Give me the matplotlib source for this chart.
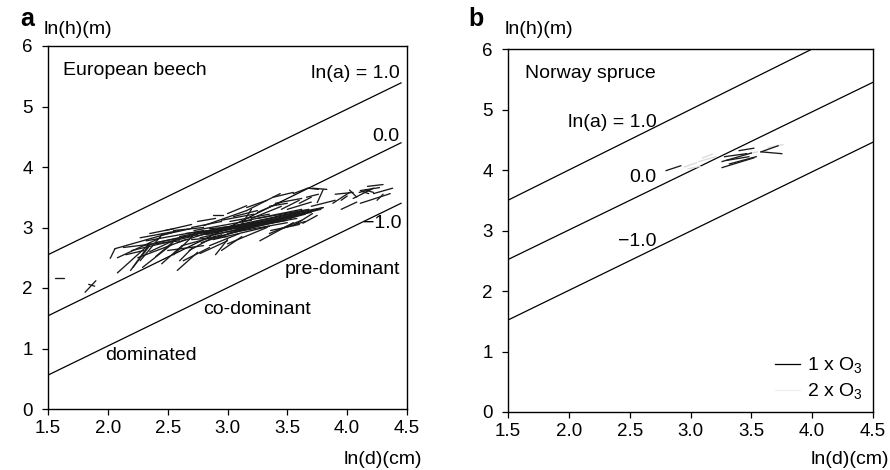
import matplotlib
matplotlib.use("Agg")
import matplotlib.pyplot as plt
from matplotlib.lines import Line2D

plt.rcParams['font.family'] = ['Liberation Sans', 'DejaVu Sans']
plt.rcParams['mathtext.fontset'] = 'custom'
plt.rcParams['mathtext.rm'] = 'Liberation Sans'
plt.rcParams['mathtext.it'] = 'Liberation Sans'

# ---------------- data ----------------
x_ticks = [1.5, 2.0, 2.5, 3.0, 3.5, 4.0, 4.5]
x_ticklabels = ["1.5", "2.0", "2.5", "3.0", "3.5", "4.0", "4.5"]
y_ticks = [0, 1, 2, 3, 4, 5, 6]

# reference lines ln(h) = ln(a) + b ln(d): endpoints
lna_labels = ["ln(a) = 1.0", "0.0", "\u22121.0"]
beech_line_d = [1.5, 4.45]
beech_line_h0 = [2.55, 1.54, 0.56]
beech_line_h1 = [5.39, 4.40, 3.40]
spruce_line_d = [1.5, 4.5]
spruce_line_h0 = [3.50, 2.52, 1.52]
spruce_line_h1 = [6.50, 5.45, 4.46]

# European beech, 1 x O3 trajectories (d0, h0, d1, h1)
beech_seg = [
    (1.56, 2.17, 1.63, 2.17), (1.81, 1.93, 1.90, 2.12), (1.84, 2.06, 1.89, 2.03),
    (2.02, 2.49, 2.06, 2.65),
    (2.08, 2.50, 2.44, 2.83), (2.06, 2.65, 2.54, 2.92), (2.27, 2.45, 2.46, 2.90),
    (2.19, 2.29, 2.35, 2.73), (2.29, 2.34, 2.54, 2.73), (2.08, 2.25, 2.35, 2.73),
    (2.13, 2.67, 2.60, 2.78), (2.21, 2.34, 2.35, 2.70), (2.27, 2.83, 2.60, 2.95),
    (2.44, 2.87, 2.69, 2.98), (2.35, 2.60, 2.62, 2.85), (2.40, 2.75, 2.75, 2.88),
    (2.48, 2.95, 2.70, 3.05), (2.30, 2.70, 2.52, 2.80), (2.55, 2.55, 2.72, 2.88),
    (2.58, 2.29, 2.75, 2.59), (2.60, 2.45, 2.71, 2.67), (2.63, 2.45, 2.85, 2.67),
    (2.50, 2.62, 2.80, 2.70), (2.15, 2.55, 2.30, 2.62),
    (2.58, 2.75, 2.85, 2.92), (2.77, 2.57, 3.00, 2.78), (2.88, 3.20, 2.96, 3.20),
    (2.80, 3.03, 3.16, 3.28), (3.00, 3.23, 3.16, 3.36), (2.70, 3.00, 2.95, 3.10),
    (2.65, 2.90, 3.05, 3.00), (2.85, 2.70, 3.10, 2.90), (2.90, 2.55, 3.00, 2.80),
    (2.95, 2.62, 3.12, 2.85), (2.70, 2.80, 3.00, 2.85), (2.75, 3.10, 2.90, 3.15),
    (3.00, 2.73, 3.33, 3.00), (3.05, 2.95, 3.30, 3.10), (3.10, 3.00, 3.20, 3.30),
    (2.77, 2.83, 3.55, 3.17), (2.80, 2.90, 3.45, 3.15), (2.85, 2.87, 3.50, 3.12),
    (2.90, 2.95, 3.60, 3.25), (2.75, 2.92, 3.30, 3.10), (3.00, 2.90, 3.55, 3.20),
    (2.95, 3.00, 3.40, 3.12), (3.05, 2.92, 3.50, 3.08), (2.85, 2.98, 3.25, 3.05),
    (3.10, 3.05, 3.65, 3.28), (3.20, 3.05, 3.70, 3.25), (3.15, 3.00, 3.58, 3.15),
    (2.88, 2.80, 3.35, 3.02), (3.30, 3.10, 3.75, 3.30), (3.25, 3.15, 3.68, 3.30),
    (3.40, 3.18, 3.80, 3.33), (3.52, 3.15, 3.80, 3.33), (3.55, 3.03, 3.71, 3.23),
    (3.27, 2.78, 3.55, 3.08), (3.35, 2.90, 3.62, 3.12),
    (3.16, 3.28, 3.44, 3.56), (3.16, 3.33, 3.33, 3.45), (3.38, 3.50, 3.55, 3.58),
    (3.55, 3.56, 3.67, 3.65), (3.67, 3.65, 3.76, 3.63), (3.71, 3.65, 3.83, 3.63),
    (3.80, 3.63, 3.75, 3.41), (3.25, 3.25, 3.45, 3.42), (3.45, 3.30, 3.60, 3.45),
    (3.05, 3.18, 3.25, 3.28), (3.35, 3.35, 3.50, 3.40), (3.60, 3.40, 3.70, 3.50),
    (3.66, 3.50, 3.76, 3.55),
    (3.36, 2.95, 3.60, 3.05), (3.63, 3.07, 3.75, 3.20), (3.45, 2.98, 3.65, 3.10),
    (3.88, 3.40, 4.02, 3.58), (3.90, 3.55, 4.05, 3.58), (3.95, 3.45, 4.00, 3.52),
    (4.05, 3.48, 4.22, 3.65), (4.11, 3.61, 4.27, 3.66), (4.17, 3.68, 4.30, 3.71),
    (4.22, 3.56, 4.38, 3.65), (4.11, 3.40, 4.36, 3.56), (4.10, 3.58, 4.20, 3.63),
    (4.12, 3.60, 4.18, 3.56), (4.15, 3.62, 4.22, 3.58), (4.25, 3.45, 4.30, 3.55),
    (4.02, 3.62, 4.08, 3.50), (3.95, 3.30, 4.08, 3.42),
    (2.20, 2.62, 2.70, 2.85), (2.25, 2.50, 2.65, 2.80), (2.32, 2.78, 2.80, 2.95),
    (2.40, 2.52, 2.58, 2.82), (2.45, 2.40, 2.62, 2.70), (2.52, 2.80, 2.95, 2.98),
    (2.60, 2.85, 3.10, 3.05), (2.62, 2.70, 2.95, 2.88), (2.68, 2.62, 2.90, 2.86),
    (2.72, 2.95, 3.20, 3.12), (2.78, 2.75, 3.15, 2.98), (2.82, 2.88, 3.60, 3.22),
    (2.70, 2.88, 3.40, 3.10), (2.92, 2.85, 3.65, 3.22), (2.98, 2.97, 3.70, 3.27),
    (3.08, 2.98, 3.78, 3.30), (2.74, 2.86, 3.48, 3.16), (3.12, 3.10, 3.62, 3.30),
    (2.55, 2.95, 2.80, 3.00), (2.35, 2.90, 2.55, 2.98), (2.95, 3.12, 3.22, 3.22),
    (3.20, 3.15, 3.45, 3.35), (3.50, 3.30, 3.70, 3.42), (3.70, 3.35, 3.90, 3.45),
    (3.40, 3.40, 3.62, 3.48), (3.02, 3.10, 3.35, 3.22),
]

# Norway spruce trajectories
spruce_seg_1x = [
    (2.80, 3.99, 2.92, 4.07), (3.26, 4.14, 3.50, 4.28), (3.28, 4.22, 3.46, 4.27),
    (3.26, 4.04, 3.52, 4.20), (3.32, 4.10, 3.54, 4.22), (3.30, 4.16, 3.48, 4.22),
    (3.58, 4.30, 3.72, 4.40), (3.58, 4.30, 3.75, 4.27), (3.40, 4.32, 3.52, 4.36),
]
spruce_seg_2x = [
    (2.95, 4.05, 3.05, 4.12), (3.07, 4.14, 3.21, 4.22), (3.10, 4.20, 3.18, 4.26),
    (2.98, 4.02, 3.08, 4.06), (3.64, 4.37, 3.76, 4.42), (3.42, 4.25, 3.55, 4.30),
]
legend_labels = ["1 x $\\mathrm{O_3}$", "2 x $\\mathrm{O_3}$"]

# ---------------- figure ----------------
FS = 14
TFS = 13.5
fig = plt.figure(figsize=(8.9, 4.7), dpi=100)
ax_a = fig.add_axes([48/890, 61/470, 359/890, 363/470])
ax_b = fig.add_axes([508/890, 58/470, 365/890, 363/470])

for ax in (ax_a, ax_b):
    ax.set_xlim(1.5, 4.5)
    ax.set_ylim(0, 6)
    ax.set_xticks(x_ticks)
    ax.set_xticklabels(x_ticklabels)
    ax.set_yticks(y_ticks)
    ax.tick_params(direction='out', length=4, width=0.9, labelsize=TFS)
    ax.tick_params(axis='x', pad=4)
    ax.tick_params(axis='y', pad=7)
    for s in ax.spines.values():
        s.set_linewidth(1.0)

lc = 'black'
for h0, h1 in zip(beech_line_h0, beech_line_h1):
    ax_a.plot(beech_line_d, [h0, h1], color=lc, lw=0.9)
for h0, h1 in zip(spruce_line_h0, spruce_line_h1):
    ax_b.plot(spruce_line_d, [h0, h1], color=lc, lw=0.9)

for d0, h0, d1, h1 in beech_seg:
    ax_a.plot([d0, d1], [h0, h1], color='#1a1a1a', lw=0.95, solid_capstyle='round')
for d0, h0, d1, h1 in spruce_seg_2x:
    ax_b.plot([d0, d1], [h0, h1], color='#d9d9d9', lw=0.9)
for d0, h0, d1, h1 in spruce_seg_1x:
    ax_b.plot([d0, d1], [h0, h1], color='#1a1a1a', lw=0.95)

# panel a texts
ax_a.text(1.625, 5.60, "European beech", fontsize=FS, ha='left', va='center')
ax_a.text(4.44, 5.55, lna_labels[0], fontsize=FS, ha='right', va='center')
ax_a.text(4.44, 4.50, lna_labels[1], fontsize=FS, ha='right', va='center')
ax_a.text(4.45, 3.07, lna_labels[2], fontsize=FS, ha='right', va='center')
ax_a.text(4.44, 2.31, "pre-dominant", fontsize=FS, ha='right', va='center')
ax_a.text(2.80, 1.65, "co-dominant", fontsize=FS, ha='left', va='center')
ax_a.text(1.98, 0.89, "dominated", fontsize=FS, ha='left', va='center')

# panel b texts
ax_b.text(1.64, 5.60, "Norway spruce", fontsize=FS, ha='left', va='center')
ax_b.text(1.99, 4.79, lna_labels[0], fontsize=FS, ha='left', va='center')
ax_b.text(2.72, 3.88, lna_labels[1], fontsize=FS, ha='right', va='center')
ax_b.text(2.72, 2.81, lna_labels[2], fontsize=FS, ha='right', va='center')

handles = [Line2D([], [], color='black', lw=0.9),
           Line2D([], [], color='#eeeeee', lw=0.9)]
ax_b.legend(handles, legend_labels, loc='lower right', frameon=False,
            fontsize=FS, handlelength=1.25, handletextpad=0.35,
            labelspacing=0.3, borderpad=0.2, borderaxespad=0.35)

# panel letters and axis titles
fig.text(20/890, 1 - 19/470, "a", fontsize=18, fontweight='bold', ha='left', va='center')
fig.text(468/890, 1 - 19/470, "b", fontsize=18, fontweight='bold', ha='left', va='center')
fig.text(44/890, 1 - 30/470, "ln(h)(m)", fontsize=FS, ha='left', va='center')
fig.text(505/890, 1 - 30/470, "ln(h)(m)", fontsize=FS, ha='left', va='center')
fig.text(422/890, 1 - 459/470, "ln(d)(cm)", fontsize=FS, ha='right', va='center')
fig.text(889/890, 1 - 459/470, "ln(d)(cm)", fontsize=FS, ha='right', va='center')

fig.savefig("out.png", dpi=100)
